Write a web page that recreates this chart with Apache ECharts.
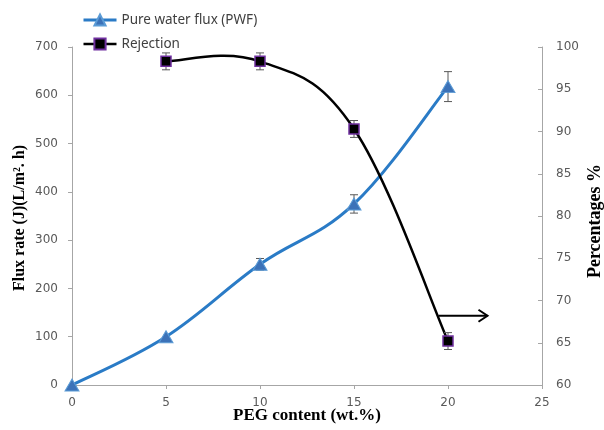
<!DOCTYPE html>
<html><head><meta charset="utf-8">
<script src="https://cdn.jsdelivr.net/npm/echarts@6/dist/echarts.min.js"></script>
<style>html,body{margin:0;padding:0;background:#fff}#c{width:604px;height:430px}</style>
</head><body><div id="c"></div>
<script>
// ---- data ----
const pegContent = [0, 5, 10, 15, 20];
const pwfValues = [0, 100, 250, 375, 618];
const pwfErrors = [0, 0, 12, 19, 31];
const rejectionX = [5, 10, 15, 20];
const rejectionValues = [98.3, 98.3, 90.3, 65.2];
const rejectionErrors = [1.0, 1.0, 1.0, 1.0];
const xTickLabels = [0, 5, 10, 15, 20, 25];
const fluxTickLabels = [0, 100, 200, 300, 400, 500, 600, 700];
const pctTickLabels = [60, 65, 70, 75, 80, 85, 90, 95, 100];
const arrowX = [19.5, 22.1];
const arrowY = 68.2;

const chart = echarts.init(document.getElementById('c'), null, {renderer: 'canvas'});
const axisGray = '#a6a6a6';
const labelColor = '#595959';
const labelFont = 'DejaVu Sans';
const blue = '#2a7bc6';

function errItem(params, api) {
  const x = api.value(0), lo = api.value(1), hi = api.value(2);
  const p1 = api.coord([x, hi]), p2 = api.coord([x, lo]);
  const w = 4;
  const st = {stroke: '#595959', lineWidth: 1};
  return {type: 'group', children: [
    {type: 'line', shape: {x1: p1[0], y1: p1[1], x2: p2[0], y2: p2[1]}, style: st},
    {type: 'line', shape: {x1: p1[0] - w, y1: p1[1], x2: p1[0] + w, y2: p1[1]}, style: st},
    {type: 'line', shape: {x1: p2[0] - w, y1: p2[1], x2: p2[0] + w, y2: p2[1]}, style: st}
  ]};
}
function arrowItem(params, api) {
  const a = api.coord([api.value(0), api.value(1)]);
  const b = api.coord([api.value(2), api.value(1)]);
  const st = {stroke: '#000', lineWidth: 2, fill: null};
  return {type: 'group', children: [
    {type: 'line', shape: {x1: a[0], y1: a[1], x2: b[0], y2: b[1]}, style: st},
    {type: 'polyline', shape: {points: [[b[0] - 9, b[1] - 6], [b[0], b[1]], [b[0] - 9, b[1] + 6]]}, style: st}
  ]};
}
// Smooth (Catmull-Rom style) curve segment from point i to i+1, drawn through the axes.
function curveItem(color, width, k) {
  return function (params, api) {
    const n = params.dataInsideLength;
    const i = params.dataIndexInside;
    if (i >= n - 1) return null;
    const P = j => {
      j = Math.max(0, Math.min(n - 1, j));
      return api.coord([api.value(0, j), api.value(1, j)]);
    };
    const p0 = P(i - 1), p1 = P(i), p2 = P(i + 1), p3 = P(i + 2);
    const c1 = [p1[0] + (p2[0] - p0[0]) * k, p1[1] + (p2[1] - p0[1]) * k];
    const c2 = [p2[0] - (p3[0] - p1[0]) * k, p2[1] - (p3[1] - p1[1]) * k];
    return {type: 'bezierCurve',
      shape: {x1: p1[0], y1: p1[1], x2: p2[0], y2: p2[1], cpx1: c1[0], cpy1: c1[1], cpx2: c2[0], cpy2: c2[1]},
      style: {stroke: color, lineWidth: width, fill: null, lineCap: 'round'}};
  };
}

const xs = xTickLabels, fl = fluxTickLabels, pc = pctTickLabels;
const pwfData = pegContent.map((x, i) => [x, pwfValues[i]]);
const rejData = rejectionX.map((x, i) => [x, rejectionValues[i]]);
chart.setOption({
  animation: false,
  backgroundColor: '#fff',
  grid: {left: 72, right: 62, top: 47, bottom: 45},
  legend: {
    orient: 'vertical', left: 77, top: 8, padding: 5, itemGap: 10,
    itemWidth: 33, itemHeight: 14,
    data: [
      {name: 'Pure water flux (PWF)', lineStyle: {opacity: 1, color: blue, width: 3}},
      {name: 'Rejection', lineStyle: {opacity: 1, color: '#000', width: 2.5}}
    ],
    textStyle: {fontFamily: 'Noto Sans', fontSize: 13.5, color: '#404040'}
  },
  xAxis: {
    type: 'value', min: xs[0], max: xs[xs.length - 1], interval: xs[1] - xs[0],
    splitLine: {show: false},
    axisLine: {lineStyle: {color: axisGray}},
    axisTick: {show: true, length: 4, lineStyle: {color: axisGray}},
    axisLabel: {color: labelColor, fontFamily: labelFont, fontSize: 12, margin: 12}
  },
  yAxis: [{
    type: 'value', min: fl[0], max: fl[fl.length - 1], interval: fl[1] - fl[0],
    splitLine: {show: false},
    axisLine: {show: true, lineStyle: {color: axisGray}},
    axisTick: {show: true, length: 4, lineStyle: {color: axisGray}},
    axisLabel: {color: labelColor, fontFamily: labelFont, fontSize: 12, margin: 14}
  }, {
    type: 'value', min: pc[0], max: pc[pc.length - 1], interval: pc[1] - pc[0],
    position: 'right',
    splitLine: {show: false},
    axisLine: {show: true, lineStyle: {color: axisGray}},
    axisTick: {show: true, inside: true, length: 4, lineStyle: {color: axisGray}},
    axisLabel: {color: labelColor, fontFamily: labelFont, fontSize: 12, margin: 14}
  }],
  graphic: [
    {type: 'text', x: 20, y: 218, rotation: Math.PI / 2,
     style: {text: 'Flux rate (J)(L/m². h)', font: 'bold 16px "Liberation Serif"', fill: '#000', align: 'center', verticalAlign: 'middle'}},
    {type: 'text', x: 595, y: 221, rotation: Math.PI / 2,
     style: {text: 'Percentages %', font: 'bold 18px "Liberation Serif"', fill: '#000', align: 'center', verticalAlign: 'middle'}},
    {type: 'text', x: 307, y: 416,
     style: {text: 'PEG content (wt.%)', font: 'bold 17px "Liberation Serif"', fill: '#000', align: 'center', verticalAlign: 'middle'}}
  ],
  series: [
    {
      type: 'custom', yAxisIndex: 0, renderItem: curveItem(blue, 3, 0.19), z: 1, silent: true,
      data: pwfData
    },
    {
      type: 'custom', yAxisIndex: 1, renderItem: curveItem('#000', 2.5, 0.19), z: 1, silent: true,
      data: rejData
    },
    {
      name: 'Pure water flux (PWF)', type: 'line', yAxisIndex: 0,
      data: pwfData,
      symbol: 'triangle', symbolSize: [14, 12],
      lineStyle: {color: blue, width: 3, opacity: 0},
      itemStyle: {color: '#3c72b8', borderColor: '#5b9bd5', borderWidth: 1},
      z: 3
    },
    {
      name: 'Rejection', type: 'line', yAxisIndex: 1,
      data: rejData,
      symbol: 'rect', symbolSize: 10,
      lineStyle: {color: '#000', width: 2.5, opacity: 0},
      itemStyle: {color: '#000', borderColor: '#7030a0', borderWidth: 1.5},
      z: 3
    },
    {
      type: 'custom', yAxisIndex: 0, renderItem: errItem, z: 2, silent: true,
      data: pegContent.map((x, i) => [x, pwfValues[i] - pwfErrors[i], pwfValues[i] + pwfErrors[i]]).filter((d, i) => pwfErrors[i] > 0)
    },
    {
      type: 'custom', yAxisIndex: 1, renderItem: errItem, z: 2, silent: true,
      data: rejectionX.map((x, i) => [x, rejectionValues[i] - rejectionErrors[i], rejectionValues[i] + rejectionErrors[i]])
    },
    {
      type: 'custom', yAxisIndex: 1, renderItem: arrowItem, z: 4, silent: true,
      data: [[arrowX[0], arrowY, arrowX[1]]]
    }
  ]
});
</script>
</body></html>
